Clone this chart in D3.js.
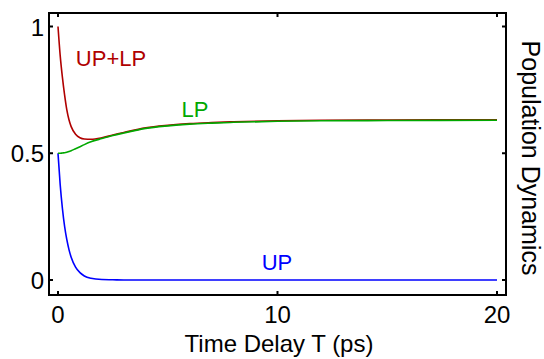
<!DOCTYPE html>
<html>
<head>
<meta charset="utf-8">
<script src="https://d3js.org/d3.v7.min.js"></script>
<style>
  body { margin: 0; background: #fff; }
  text { font-family: "Liberation Sans", Arial, sans-serif; }
</style>
</head>
<body>
<script>
// time delay T (ps)
var times  = [0, 0.1, 0.2, 0.3, 0.4, 0.5, 0.6, 0.8, 1.0, 1.2, 1.5, 2, 2.5, 3, 4, 5, 6, 7, 8, 10, 12, 15, 20];
var upVals = [0.5, 0.376, 0.283, 0.212, 0.160, 0.120, 0.090, 0.051, 0.029, 0.016, 0.007, 0.002, 0.001, 0, 0, 0, 0, 0, 0, 0, 0, 0, 0];
var lpVals = [0.500, 0.500, 0.501, 0.502, 0.504, 0.507, 0.510, 0.518, 0.526, 0.534, 0.545, 0.558, 0.570, 0.580, 0.598, 0.608, 0.615, 0.619, 0.622, 0.626, 0.628, 0.629, 0.630];
var sumVals = [1.0, 0.885, 0.800, 0.730, 0.672, 0.632, 0.605, 0.575, 0.561, 0.556, 0.555, 0.561, 0.572, 0.582, 0.600, 0.610, 0.617, 0.621, 0.624, 0.628, 0.630, 0.631, 0.632];
var xTicks = [0, 10, 20];
var yTicks = [0, 0.5, 1];

var width = 544, height = 359;
var frame = {left: 49, right: 506, top: 13, bottom: 295};

var svg = d3.select("body").append("svg")
    .attr("width", width)
    .attr("height", height);

var x = d3.scaleLinear().domain([0, 20]).range([58, 497]);
var y = d3.scaleLinear().domain([0, 1]).range([280, 26.5]);

function series(vals, color) {
  var line = d3.line()
      .x(function(d, i) { return x(times[i]); })
      .y(function(d) { return y(d); })
      .curve(d3.curveMonotoneX);
  svg.append("path")
      .datum(vals)
      .attr("d", line)
      .attr("fill", "none")
      .attr("stroke", color)
      .attr("stroke-width", 1.6);
}

series(upVals, "#0000ff");
series(sumVals, "#b00000");
series(lpVals, "#00a800");

// frame
svg.append("rect")
    .attr("x", frame.left).attr("y", frame.top)
    .attr("width", frame.right - frame.left).attr("height", frame.bottom - frame.top)
    .attr("fill", "none")
    .attr("stroke", "#000")
    .attr("stroke-width", 2);

// ticks, pointing in
var tl = 4;
xTicks.forEach(function(t) {
  svg.append("line").attr("x1", x(t)).attr("x2", x(t)).attr("y1", frame.bottom).attr("y2", frame.bottom - tl)
      .attr("stroke", "#000").attr("stroke-width", 2);
  svg.append("line").attr("x1", x(t)).attr("x2", x(t)).attr("y1", frame.top).attr("y2", frame.top + tl)
      .attr("stroke", "#000").attr("stroke-width", 2);
  svg.append("text").attr("x", x(t)).attr("y", 323)
      .attr("text-anchor", "middle").attr("font-size", 24).text(d3.format("d")(t));
});
yTicks.forEach(function(t) {
  svg.append("line").attr("x1", frame.left).attr("x2", frame.left + tl).attr("y1", y(t)).attr("y2", y(t))
      .attr("stroke", "#000").attr("stroke-width", 2);
  svg.append("line").attr("x1", frame.right).attr("x2", frame.right - tl).attr("y1", y(t)).attr("y2", y(t))
      .attr("stroke", "#000").attr("stroke-width", 2);
  svg.append("text").attr("x", 44).attr("y", y(t) + 9)
      .attr("text-anchor", "end").attr("font-size", 24).text(String(t));
});

// axis titles
svg.append("text").attr("x", 279).attr("y", 352)
    .attr("text-anchor", "middle").attr("font-size", 24).text("Time Delay T (ps)");
svg.append("text")
    .attr("transform", "translate(522,158) rotate(90)")
    .attr("text-anchor", "middle").attr("font-size", 25).text("Population Dynamics");

// curve labels
svg.append("text").attr("x", 111).attr("y", 66).attr("text-anchor", "middle")
    .attr("font-size", 22).attr("fill", "#b00000").text("UP+LP");
svg.append("text").attr("x", 195).attr("y", 117).attr("text-anchor", "middle")
    .attr("font-size", 22).attr("fill", "#00a800").text("LP");
svg.append("text").attr("x", 277).attr("y", 270).attr("text-anchor", "middle")
    .attr("font-size", 22).attr("fill", "#0000ff").text("UP");
</script>
</body>
</html>
